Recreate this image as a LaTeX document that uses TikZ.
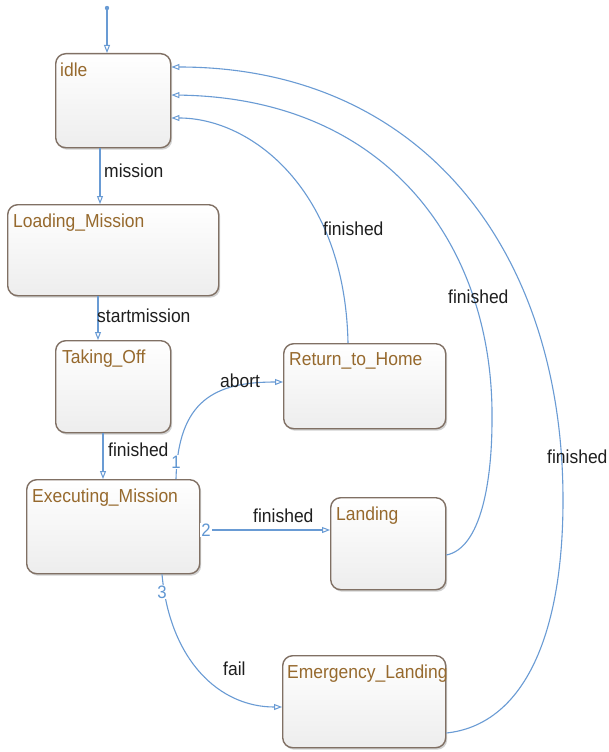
\documentclass[tikz,border=0pt]{standalone}
\usepackage{fontspec}
\setmainfont{Liberation Sans}[FakeStretch=0.93]
\usetikzlibrary{arrows.meta,calc,shadows}

\definecolor{trblue}{RGB}{105,155,212}
\definecolor{numblue}{RGB}{95,150,210}
\definecolor{boxedge}{RGB}{128,112,100}
\definecolor{statetext}{RGB}{150,105,45}
\definecolor{labeltext}{RGB}{30,30,30}

\tikzset{
  statebox/.style={draw=boxedge, line width=1.4pt, rounded corners=10pt,
    top color=white, bottom color=black!7, anchor=north west, inner sep=0pt,
    drop shadow={shadow xshift=1.5pt, shadow yshift=-2pt, opacity=0.3, fill=black!60}},
  statename/.style={anchor=base west, inner sep=0pt, text=statetext,
    font=\fontsize{18.8}{21}\selectfont},
  trlabel/.style={anchor=base west, inner sep=0pt, text=labeltext,
    font=\fontsize{18.8}{21}\selectfont},
  trnum/.style={inner sep=1pt, fill=white, text=numblue,
    font=\fontsize{18}{21}\selectfont},
  tr/.style={draw=trblue, line width=1.1pt,
    -{Triangle[open, length=8pt, width=6pt, line width=1pt]}},
}

\begin{document}
\begin{tikzpicture}[x=1pt, y=-1pt]
  \fill[white] (0,0) rectangle (609,752);
  \useasboundingbox (0,0) rectangle (609,752);

  % states
  \node[statebox, minimum width=115pt, minimum height=94pt] (idle)    at (55,53)   {};
  \node[statebox, minimum width=211pt, minimum height=91pt] (load)    at (7,204)   {};
  \node[statebox, minimum width=115pt, minimum height=92pt] (takeoff) at (55,340)  {};
  \node[statebox, minimum width=173pt, minimum height=94pt] (exec)    at (26,479)  {};
  \node[statebox, minimum width=162pt, minimum height=85pt] (home)    at (283,343) {};
  \node[statebox, minimum width=115pt, minimum height=92pt] (land)    at (330,497) {};
  \node[statebox, minimum width=163pt, minimum height=92pt] (emerg)   at (282,655) {};

  % state names
  \node[statename] (idle-n)    at ($(idle.north west)+(5,24)$)    {idle};
  \node[statename] (load-n)    at ($(load.north west)+(6,23)$)    {Loading\_Mission};
  \node[statename] (takeoff-n) at ($(takeoff.north west)+(7,23)$) {Taking\_Off};
  \node[statename] (exec-n)    at ($(exec.north west)+(6,23)$)    {Executing\_Mission};
  \node[statename] (home-n)    at ($(home.north west)+(6,22)$)    {Return\_to\_Home};
  \node[statename] (land-n)    at ($(land.north west)+(6,23)$)    {Landing};
  \node[statename] (emerg-n)   at ($(emerg.north west)+(5,23)$)   {Emergency\_Landing};

  % default transition
  \coordinate (init) at (107,8);
  \fill[trblue] (init) circle (2.2pt);
  \draw[tr] (init) -- (init |- idle.north);

  % straight transitions down the left column
  \draw[tr] ($(idle.south west)+(45,0)$) -- ($(load.north west)+(93,0)$);
  \node[trlabel] (l-mission) at (104,177) {mission};

  \draw[tr] ($(load.south west)+(91,0)$) -- ($(takeoff.north west)+(43,0)$);
  \node[trlabel] (l-start) at (97,322) {startmission};

  \draw[tr] ($(takeoff.south west)+(48,0)$) -- ($(exec.north west)+(77,0)$);
  \node[trlabel] (l-fin1) at (108,456) {finished};

  % outgoing transitions of Executing_Mission
  \draw[tr] ($(exec.north west)+(150,0)$) .. controls +(2,-79) and +(-68,0) ..
    ($(home.north west)+(0,39)$);
  \node[trnum] (n1) at (176,462) {1};
  \node[trlabel] (l-abort) at (220,387) {abort};

  \draw[tr] ($(exec.north east)+(0,51)$) -- ($(land.north west)+(0,33)$);
  \node[trnum] (n2) at (206,530) {2};
  \node[trlabel] (l-fin2) at (253,522) {finished};

  \draw[tr] ($(exec.south west)+(136,0)$) .. controls +(8,87) and +(-62,0) ..
    ($(emerg.north west)+(0,52)$);
  \node[trnum] (n3) at (162,592) {3};
  \node[trlabel] (l-fail) at (223,675) {fail};

  % returns to idle
  \draw[tr] ($(home.north west)+(65,0)$) .. controls +(-3,-153) and +(80,0) ..
    ($(idle.north east)+(0,65)$);
  \node[trlabel] (l-fin3) at (323,235) {finished};

  \coordinate (landturn) at (492,420);
  \draw[tr] ($(land.north east)+(0,58)$) .. controls +(35,-7) and +(0,60) .. (landturn)
    .. controls +(2,-170) and +(220,3) .. ($(idle.north east)+(0,42)$);
  \node[trlabel] (l-fin4) at (448,303) {finished};

  \coordinate (emergturn) at (563,500);
  \draw[tr] ($(emerg.north east)+(0,78)$) .. controls +(75,-8) and +(0,140) .. (emergturn)
    .. controls +(0,-250) and +(250,0) .. ($(idle.north east)+(0,14)$);
  \node[trlabel] (l-fin5) at (547,463) {finished};
\end{tikzpicture}
\end{document}
